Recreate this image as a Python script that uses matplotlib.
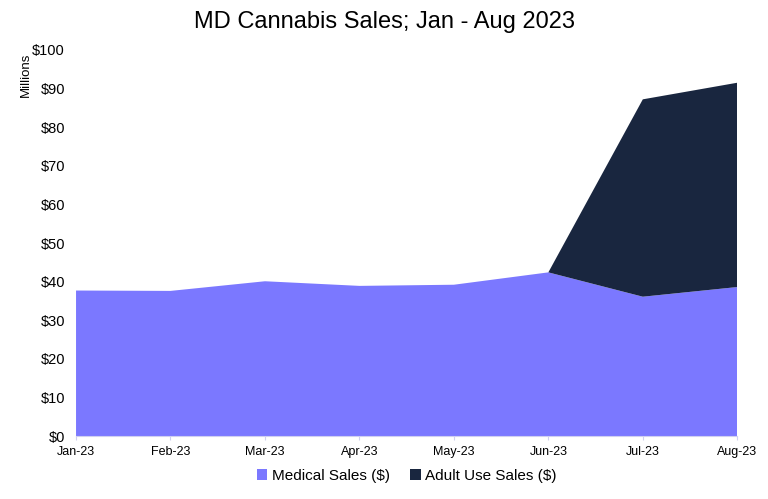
"""
MD cannabis sales, stacked area, Jan - Aug 2023
"""

import matplotlib
matplotlib.use("Agg")
import matplotlib.pyplot as plt
import numpy as np

# data (millions of $)
months = ['Jan-23', 'Feb-23', 'Mar-23', 'Apr-23', 'May-23', 'Jun-23', 'Jul-23', 'Aug-23']
medical = [37.7, 37.6, 40.1, 38.9, 39.2, 42.4, 36.1, 38.6]
adult_use = [0, 0, 0, 0, 0, 0, 51.1, 52.9]
y_ticks = [0, 10, 20, 30, 40, 50, 60, 70, 80, 90, 100]

med_color = '#7B78FF'
adult_color = '#19263F'

plt.rcParams['font.family'] = ['Liberation Sans', 'DejaVu Sans']

fig = plt.figure(figsize=(7.68, 4.99), dpi=100)
ax = fig.add_axes([0.099, 0.126, 0.861, 0.774])

x = np.arange(len(months))
ax.stackplot(x, medical, adult_use, colors=[med_color, adult_color],
             labels=['Medical Sales ($)', 'Adult Use Sales ($)'], linewidth=0)

ax.set_xlim(0, len(months) - 1)
ax.set_ylim(0, 100)
ax.set_xticks(x)
ax.set_xticklabels(months, fontsize=9)
ax.set_yticks(y_ticks)
ax.set_yticklabels(['$' + str(v) for v in y_ticks], fontsize=10.5)
ax.tick_params(axis='y', length=0, pad=8)
ax.tick_params(axis='x', length=3, color='#D0D0F0', pad=4)

for s in ['top', 'right', 'left']:
    ax.spines[s].set_visible(False)
ax.spines['bottom'].set_color('#D0D0F0')

ax.set_ylabel('Millions', fontsize=9.5)
ax.yaxis.set_label_coords(-0.067, 0.935)

fig.text(0.5, 0.955, 'MD Cannabis Sales; Jan - Aug 2023', ha='center', va='center',
         fontsize=17)

ax.legend(loc='upper center', bbox_to_anchor=(0.5, -0.05), ncol=2, frameon=False,
          fontsize=11, handlelength=0.7, handleheight=0.7, handletextpad=0.3,
          columnspacing=1.3)

fig.savefig('out.png', dpi=100)
